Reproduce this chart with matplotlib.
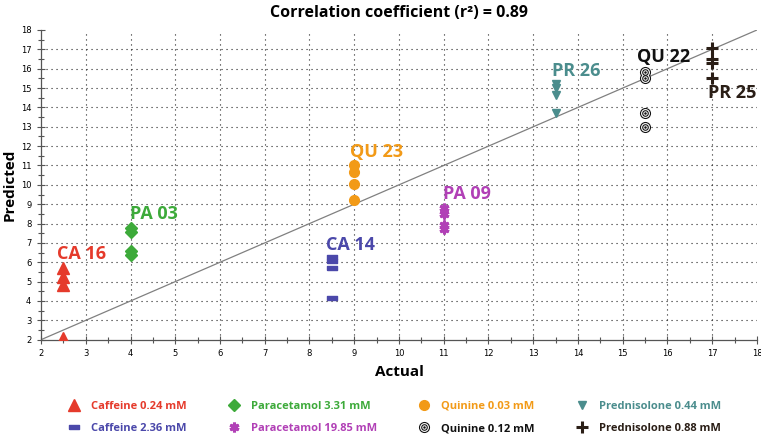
import numpy as np
import matplotlib
matplotlib.use('Agg')
import matplotlib.pyplot as plt
from matplotlib.lines import Line2D
from matplotlib.legend_handler import HandlerTuple

# measured (actual) vs predicted concentrations
caf024_x = [2.5, 2.5, 2.5, 2.5]
caf024_y = [5.7, 5.25, 4.8, 2.1]
caf236_x = [8.5, 8.5, 8.5, 8.5]
caf236_y = [6.25, 6.05, 5.72, 4.17]
par331_x = [4, 4, 4, 4]
par331_y = [7.78, 7.58, 6.58, 6.37]
par1985_x = [11, 11, 11, 11]
par1985_y = [8.8, 8.5, 7.95, 7.7]
qui003_x = [9, 9, 9, 9]
qui003_y = [11.0, 10.65, 10.03, 9.2]
qui012_x = [15.5, 15.5, 15.5, 15.5]
qui012_y = [15.85, 15.5, 13.72, 13.0]
pre044_x = [13.5, 13.5, 13.5, 13.5]
pre044_y = [15.22, 14.98, 14.65, 13.69]
pre088_x = [17, 17, 17, 17]
pre088_y = [17.05, 16.48, 16.3, 15.5]

ann_text = ['CA 16', 'PA 03', 'QU 23', 'CA 14', 'PA 09', 'PR 26', 'QU 22', 'PR 25']
ann_x = [2.9, 4.53, 9.5, 8.91, 11.51, 13.97, 15.92, 17.44]
ann_y = [6.43, 8.5, 11.7, 6.89, 9.53, 15.88, 16.6, 14.74]

RED = '#E53A2B'
GREEN = '#3DAA3A'
ORANGE = '#F29A17'
BLUE = '#4B48AA'
PURPLE = '#B140B6'
TEAL = '#4B8D8D'
BLACK = '#111111'
BROWN = '#2A1E16'
ann_col = [RED, GREEN, ORANGE, BLUE, PURPLE, TEAL, BLACK, BROWN]

FONT = ['Open Sans', 'DejaVu Sans']
plt.rcParams['font.family'] = FONT

rect = [(-1, -0.55), (1, -0.55), (1, 0.55), (-1, 0.55), (-1, -0.55)]
rings = [(8, BLACK), (6.4, 'white'), (4.8, BLACK), (3.2, 'white'), (1.8, BLACK)]

fig = plt.figure(figsize=(7.61, 4.34), dpi=100)
ax = fig.add_axes([0.0539, 0.2173, 0.9408, 0.7136])

ax.plot([2, 18], [2, 18], color='#808080', lw=0.9, zorder=2)

ax.plot(caf024_x, caf024_y, ls='none', marker='^', ms=8, color=RED, zorder=4)
ax.plot(caf236_x, caf236_y, ls='none', marker=rect, ms=6.5, color=BLUE, zorder=4)
ax.plot(par331_x, par331_y, ls='none', marker='D', ms=6, color=GREEN, zorder=4)
ax.plot(par1985_x, par1985_y, ls='none', marker=(6, 2, 0), ms=7, mew=2.2,
        color=PURPLE, zorder=4)
ax.plot(qui003_x, qui003_y, ls='none', marker='o', ms=7, color=ORANGE, zorder=4)
# target marker: concentric rings
for s, c in rings:
    ax.plot(qui012_x, qui012_y, ls='none', marker='o', ms=s, mew=0, color=c, zorder=4)
ax.plot(pre044_x, pre044_y, ls='none', marker='v', ms=5.5, color=TEAL, zorder=4)
ax.plot(pre088_x, pre088_y, ls='none', marker='+', ms=8, mew=2.2, color=BROWN, zorder=4)

for t, x, y, c in zip(ann_text, ann_x, ann_y, ann_col):
    ax.text(x, y, t, color=c, fontsize=13, fontweight='bold', ha='center', va='center',
            zorder=5)

ax.set_xlim(2, 18)
ax.set_ylim(2, 18)
ax.set_xticks(range(2, 19))
ax.set_yticks(range(2, 19))
ax.set_xticks(np.arange(2.5, 18, 1), minor=True)
ax.set_yticks(np.arange(2.5, 18, 1), minor=True)
ax.tick_params(which='major', direction='inout', length=6, width=0.8, color='#555555',
               labelsize=6, pad=4)
ax.tick_params(which='minor', direction='inout', length=5, width=0.8, color='#555555')
for lab in ax.get_xticklabels() + ax.get_yticklabels():
    lab.set_family('DejaVu Sans')

for v in range(3, 18):
    ax.axvline(v, color='#222222', lw=0.8, ls=(0, (1, 3.5)), zorder=1)
    ax.axhline(v, color='#222222', lw=0.8, ls=(0, (1, 3.5)), zorder=1)

for side in ['top', 'right']:
    ax.spines[side].set_visible(False)
for side in ['left', 'bottom']:
    ax.spines[side].set_color('#555555')
    ax.spines[side].set_linewidth(0.9)

ax.set_xlabel('Actual', fontsize=11, fontweight='bold', labelpad=5)
ax.set_ylabel('Predicted', fontsize=11, fontweight='bold', labelpad=3)
ax.set_title('Correlation coefficient (r²) = 0.89', fontsize=11.5, fontweight='bold', pad=9)


def target_handle():
    return tuple(Line2D([], [], ls='none', marker='o', ms=s, mew=0, color=c) for s, c in rings)


handles = [
    Line2D([], [], ls='none', marker='^', ms=8, color=RED),
    Line2D([], [], ls='none', marker=rect, ms=6.5, color=BLUE),
    Line2D([], [], ls='none', marker='D', ms=6, color=GREEN),
    Line2D([], [], ls='none', marker=(6, 2, 0), ms=7, mew=2.2, color=PURPLE),
    Line2D([], [], ls='none', marker='o', ms=7, color=ORANGE),
    target_handle(),
    Line2D([], [], ls='none', marker='v', ms=5.5, color=TEAL),
    Line2D([], [], ls='none', marker='+', ms=8, mew=2.2, color=BROWN),
]
labels = ['Caffeine 0.24 mM', 'Caffeine 2.36 mM', 'Paracetamol 3.31 mM',
          'Paracetamol 19.85 mM', 'Quinine 0.03 mM', 'Quinine 0.12 mM',
          'Prednisolone 0.44 mM', 'Prednisolone 0.88 mM']
label_col = [RED, BLUE, GREEN, PURPLE, ORANGE, BLACK, TEAL, BROWN]

leg = fig.legend(handles, labels, ncol=4, loc='center', bbox_to_anchor=(0.518, 0.038),
                 frameon=False, handlelength=1.2, handletextpad=0.9, columnspacing=3.7,
                 labelspacing=1.05, prop={'family': FONT, 'weight': 'bold', 'size': 8},
                 handler_map={tuple: HandlerTuple(ndivide=1, pad=0)})
for txt, c in zip(leg.get_texts(), label_col):
    txt.set_color(c)

fig.savefig('out.png', dpi=100)
